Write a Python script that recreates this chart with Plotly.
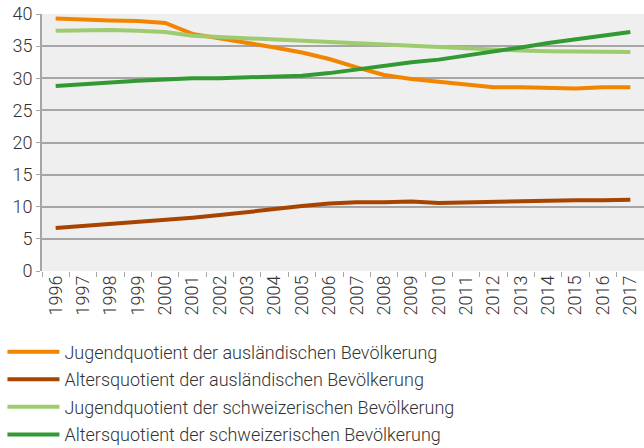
import plotly.graph_objects as go

years = [str(y) for y in range(1996, 2018)]

jugend_ausl = [39.3, 39.1, 39.0, 38.9, 38.6, 36.9, 36.2, 35.6, 34.8, 34.0, 33.0, 31.7,
               30.5, 29.9, 29.5, 29.0, 28.6, 28.6, 28.5, 28.4, 28.6, 28.6]
alter_ausl = [6.7, 7.0, 7.3, 7.6, 8.0, 8.3, 8.7, 9.2, 9.6, 10.1, 10.5, 10.7,
              10.7, 10.8, 10.6, 10.7, 10.8, 10.85, 10.9, 11.0, 11.0, 11.1]
jugend_ch = [37.4, 37.5, 37.5, 37.4, 37.2, 36.6, 36.4, 36.2, 36.0, 35.8, 35.6, 35.4,
             35.3, 35.1, 34.9, 34.7, 34.5, 34.3, 34.2, 34.2, 34.1, 34.1]
alter_ch = [28.8, 29.1, 29.3, 29.6, 29.8, 30.0, 30.0, 30.1, 30.3, 30.4, 30.8, 31.4,
            32.0, 32.5, 32.9, 33.5, 34.1, 34.8, 35.5, 36.1, 36.6, 37.2]

names = ["Jugendquotient der ausländischen Bevölkerung",
         "Altersquotient der ausländischen Bevölkerung",
         "Jugendquotient der schweizerischen Bevölkerung",
         "Altersquotient der schweizerischen Bevölkerung"]
colors = ["#f28500", "#a84300", "#9ecb6f", "#339933"]
series = [jugend_ausl, alter_ausl, jugend_ch, alter_ch]

y_ticks = [0, 5, 10, 15, 20, 25, 30, 35, 40]

fig = go.Figure()
for i, (n, c, s) in enumerate(zip(names, colors, series)):
    fig.add_trace(go.Scatter(x=years, y=s, name=n, mode="lines",
                             line=dict(color=c, width=4), legendgroup=str(i)))

font = dict(family="Roboto, sans-serif", size=18, color="#333333", weight=300)
legend_font = dict(family="Roboto, sans-serif", size=18, color="#333333", weight=300)

fig.update_layout(
    width=644, height=448,
    margin=dict(l=42, r=0, t=14, b=177, autoexpand=False),
    paper_bgcolor="white",
    plot_bgcolor="#efefef",
    font=font,
    showlegend=True,
    legend=dict(x=-0.0657, xanchor="left", y=-0.243, yanchor="top",
                orientation="v", font=legend_font, tracegroupgap=1.2,
                itemwidth=52, bgcolor="rgba(0,0,0,0)"),
    xaxis=dict(type="category", range=[-0.5, 21.5], tickangle=-90,
               tickson="boundaries", automargin=False,
               ticks="outside", ticklen=5, tickcolor="#a6a6a6",
               showgrid=False, showline=False, zeroline=False,
               tickfont=font),
    yaxis=dict(range=[0, 40], tickvals=y_ticks, ticks="outside", ticklen=4,
               tickcolor="#a6a6a6", showgrid=True, gridcolor="#a6a6a6",
               gridwidth=1.5, showline=True, linecolor="#a6a6a6", linewidth=2,
               zeroline=False, automargin=False, tickfont=font),
)

fig.write_html("out.html", config={"displayModeBar": False},
               post_script="document.body.style.margin='0';document.body.style.overflow='hidden';")
